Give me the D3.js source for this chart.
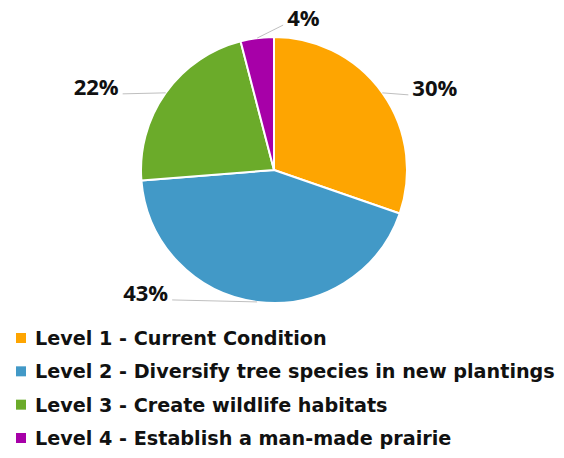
<!DOCTYPE html>
<html>
<head>
<meta charset="utf-8">
<script src="https://cdn.jsdelivr.net/npm/d3@7"></script>
<style>
  html, body { margin: 0; padding: 0; background: #ffffff; }
  svg { display: block; }
</style>
</head>
<body>
<svg id="chart" width="564" height="458"></svg>
<script>
// ---- data ----
const categories = [
  "Level 1 - Current Condition",
  "Level 2 - Diversify tree species in new plantings",
  "Level 3 - Create wildlife habitats",
  "Level 4 - Establish a man-made prairie"
];
const values = [30, 43, 22, 4];
const valueLabels = ["30%", "43%", "22%", "4%"];
const colors = ["#fea501", "#4299c7", "#6bab2a", "#a700a8"];

// ---- layout (styling, not data) ----
const cx = 274, cy = 170, R = 133;
// leader end offsets from the arc anchor point, and label anchoring
const labelLayout = [
  { dx: 26, dy: 2, anchor: "start" },
  { dx: -85, dy: -2, anchor: "end" },
  { dx: -43, dy: 1, anchor: "end" },
  { dx: 26, dy: -13, anchor: "start" }
];
const labelFont = "'Open Sans', sans-serif";
const legendFont = "'DejaVu Sans', sans-serif";
const legendFontSize = 19.2;

const svg = d3.select("#chart");

const pie = d3.pie().sort(null).value(d => d);
const arcs = pie(values);
const arc = d3.arc().innerRadius(0).outerRadius(R);

const g = svg.append("g").attr("transform", `translate(${cx},${cy})`);

g.selectAll("path.slice")
  .data(arcs)
  .enter().append("path")
  .attr("class", "slice")
  .attr("d", arc)
  .attr("fill", (d, i) => colors[i])
  .attr("stroke", "#ffffff")
  .attr("stroke-width", 2)
  .attr("stroke-linejoin", "round");

// labels with leader lines
arcs.forEach((d, i) => {
  const mid = (d.startAngle + d.endAngle) / 2;
  const ax = R * Math.sin(mid), ay = -R * Math.cos(mid);
  const L = labelLayout[i];
  const ex = ax + L.dx, ey = ay + L.dy;
  g.append("line")
    .attr("x1", ax).attr("y1", ay)
    .attr("x2", ex).attr("y2", ey)
    .attr("stroke", "#bfbfbf")
    .attr("stroke-width", 1);
  g.append("text")
    .attr("x", L.anchor === "start" ? ex + 4 : ex - 4)
    .attr("y", ey + 1)
    .attr("text-anchor", L.anchor)
    .attr("font-family", labelFont)
    .attr("font-weight", 700)
    .attr("font-size", 22)
    .attr("fill", "#111111")
    .text(valueLabels[i]);
});

// legend
const legend = svg.append("g");
const rowY = d3.scaleLinear().domain([0, 3]).range([345, 445]);
const items = legend.selectAll("g.item")
  .data(categories)
  .enter().append("g")
  .attr("class", "item");

items.append("rect")
  .attr("x", 16)
  .attr("y", (d, i) => rowY(i) - 12)
  .attr("width", 10)
  .attr("height", 10)
  .attr("fill", (d, i) => colors[i]);

items.append("text")
  .attr("x", 35)
  .attr("y", (d, i) => rowY(i))
  .attr("font-family", legendFont)
  .attr("font-weight", 700)
  .attr("font-size", legendFontSize)
  .attr("fill", "#111111")
  .text(d => d);
</script>
</body>
</html>
